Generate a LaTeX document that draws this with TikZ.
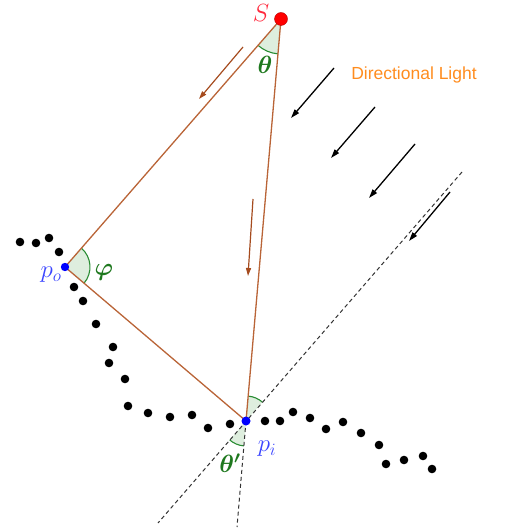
\documentclass[tikz,border=0pt]{standalone}
\usepackage{fontspec}
\usepackage{bm}
\usetikzlibrary{arrows.meta,angles}
\newfontfamily\labelsans{Liberation Sans}
\definecolor{brn}{RGB}{185,100,55}
\definecolor{brnarrow}{RGB}{165,75,30}
\definecolor{angG}{RGB}{40,140,50}
\definecolor{angF}{RGB}{222,238,222}
\definecolor{txtG}{RGB}{30,120,30}
\definecolor{ptB}{RGB}{0,0,255}
\definecolor{lblB}{RGB}{60,70,255}
\definecolor{ptR}{RGB}{255,0,0}
\definecolor{lblR}{RGB}{255,40,60}
\definecolor{orng}{RGB}{255,140,30}
\begin{document}
\begin{tikzpicture}[x=1pt,y=-1pt,
  ray/.style={brn,line width=1.3pt},
  brarrow/.style={brnarrow,line width=1.2pt,-{Triangle[length=8pt,width=5pt]}},
  lightarrow/.style={black,line width=1.3pt,-{Triangle[length=9pt,width=5.5pt]}},
  guide/.style={black!80,line width=1pt,dash pattern=on 4pt off 3pt},
  wedge/.style={draw=angG,fill=angF,line width=1.1pt},
  sdot/.style={fill=black},
  ptlabel/.style={lblB,font=\fontsize{25}{27}\selectfont},
  anglabel/.style={txtG,font=\fontsize{23}{25}\selectfont}]
\useasboundingbox (0,0) rectangle (506,529);

% points
\coordinate (S) at (281,19);
\coordinate (po) at (65,267);
\coordinate (pi) at (246,421);
\coordinate (L1) at (462,172);
\coordinate (L2) at (158,523);
\coordinate (E) at (237,527);

% angle wedges
\pic[wedge,angle radius=35pt] {angle=po--S--pi};
\pic[wedge,angle radius=25pt] {angle=pi--po--S};
\pic[wedge,angle radius=25pt] {angle=L1--pi--S};
\pic[wedge,angle radius=25pt] {angle=L2--pi--E};

% dashed guides
\draw[guide] (L1) -- (L2);
\draw[guide] (pi) -- (E);

% triangle rays
\draw[ray] (S) -- (po);
\draw[ray] (S) -- (pi);
\draw[ray] (po) -- (pi);

% brown arrows
\coordinate (b1s) at (243,47); \coordinate (b1e) at (199,99);
\coordinate (b2s) at (253,199); \coordinate (b2e) at (248,276);
\draw[brarrow] (b1s) -- (b1e);
\draw[brarrow] (b2s) -- (b2e);

% directional light arrows
\coordinate (d1s) at (334,68);  \coordinate (d1e) at (291,118);
\coordinate (d2s) at (375,107); \coordinate (d2e) at (331,158);
\coordinate (d3s) at (415,144); \coordinate (d3e) at (369,198);
\coordinate (d4s) at (450,192); \coordinate (d4e) at (409,241);
\draw[lightarrow] (d1s) -- (d1e);
\draw[lightarrow] (d2s) -- (d2e);
\draw[lightarrow] (d3s) -- (d3e);
\draw[lightarrow] (d4s) -- (d4e);

% surface samples
\foreach \p in {(20,242),(36,243),(49,238),(59,252),(74,287),(83,301),(96,324),
  (113,347),(109,363),(125,379),(128,406),(148,413),(170,417),(192,415),(208,428),
  (230,424),(265,421),(280,421),(293,412),(310,418),(326,429),(343,422),(361,433),
  (379,445),(386,464),(404,460),(423,456),(432,469)}
  \fill[sdot] \p circle (4.3pt);

% special points
\fill[ptR] (S) circle (6.5pt);
\draw[red!70!black,line width=0.4pt] (S) circle (6.5pt);
\fill[ptB] (po) circle (4.2pt);
\fill[ptB] (pi) circle (4.5pt);

% labels
\node[lblR,font=\fontsize{25}{27}\selectfont] (Slab) at (261,13) {$S$};
\node[ptlabel] (polab) at (51,275) {$p_o$};
\node[ptlabel] (pilab) at (267,449) {$p_i$};
\node[anglabel] (thlab) at (265,65) {$\bm{\theta}$};
\node[anglabel] (philab) at (104,272) {$\bm{\varphi}$};
\node[anglabel] (thplab) at (230,463) {$\bm{\theta'}$};
\node[orng,font=\labelsans\fontsize{17.5}{20}\selectfont] (dl) at (414,75) {Directional Light};
\end{tikzpicture}
\end{document}
